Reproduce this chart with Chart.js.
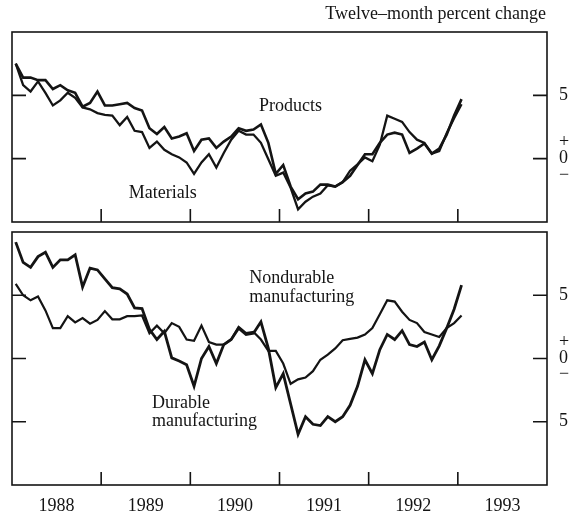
<!DOCTYPE html>
<html>
<head>
<meta charset="utf-8">
<script src="https://cdn.jsdelivr.net/npm/chart.js@4.4.1/dist/chart.umd.min.js"></script>
<style>
  html, body { margin: 0; padding: 0; background: #fff; }
  #wrap { position: relative; width: 574px; height: 512px; }
  canvas { position: absolute; left: 0; }
</style>
</head>
<body>
<div id="wrap">
  <canvas id="panelTop" width="574" height="228" style="top:0"></canvas>
  <canvas id="panelBottom" width="574" height="284" style="top:228px"></canvas>
</div>
<script>
// Twelve-month percent change, monthly, Jan 1988 - Jan 1993
var firstYear = 1988;

var products = [
  7.5, 6.4, 6.4, 6.2, 6.2, 5.5, 5.8, 5.4, 5.2, 4.1, 4.4, 5.3,
  4.2, 4.2, 4.3, 4.4, 4.0, 3.8, 2.4, 1.95, 2.5, 1.6, 1.75, 2.0,
  0.6, 1.5, 1.6, 0.85, 1.35, 1.75, 2.4, 2.2, 2.3, 2.7, 1.25, -1.2,
  -0.5, -2.2, -3.2, -2.75, -2.6, -2.05, -2.05, -2.2, -1.85, -1.35, -0.5, 0.35,
  0.35, 1.25, 1.9, 2.05, 1.9, 0.45, 0.8, 1.2, 0.4, 0.8, 1.9, 3.4,
  4.7
];
var materials = [
  7.5, 5.8, 5.3, 6.1, 5.2, 4.2, 4.6, 5.2, 4.8, 4.05, 3.9, 3.6,
  3.45, 3.4, 2.65, 3.3, 2.2, 2.1, 0.85, 1.35, 0.7, 0.35, 0.1, -0.3,
  -1.2, -0.3, 0.35, -0.7, 0.45, 1.5, 2.2, 1.9, 1.9, 1.25, -0.05, -1.35,
  -1.1, -2.3, -4.0, -3.4, -3.0, -2.75, -2.1, -2.2, -1.85, -0.95, -0.45, 0.1,
  -0.2, 1.1, 3.4, 3.15, 2.9, 2.1, 1.5, 1.25, 0.4, 0.6, 2.0, 3.2,
  4.3
];
var durable = [
  9.2, 7.6, 7.2, 8.05, 8.4, 7.2, 7.8, 7.8, 8.2, 5.65, 7.15, 7.0,
  6.3, 5.6, 5.5, 5.1, 4.0, 3.95, 2.3, 1.5, 2.15, 0.05, -0.2, -0.5,
  -2.2, 0.0, 0.95, -0.4, 1.1, 1.5, 2.4, 1.9, 2.0, 2.9, 0.8, -2.3,
  -1.2, -3.6, -6.0, -4.6, -5.2, -5.3, -4.6, -5.0, -4.6, -3.7, -2.2, -0.1,
  -1.2, 0.7, 1.9, 1.5, 2.2, 1.1, 0.95, 1.3, -0.1, 1.0, 2.4, 3.9,
  5.8
];
var nondurable = [
  5.9, 5.0, 4.6, 4.9, 3.8, 2.4, 2.4, 3.35, 2.85, 3.2, 2.75, 3.05,
  3.75, 3.1, 3.1, 3.35, 3.35, 3.4, 2.0, 2.6, 2.0, 2.8, 2.5, 1.5,
  1.4, 2.6, 1.3, 1.1, 1.1, 1.5, 2.5, 2.0, 2.1, 1.5, 0.6, 0.6,
  -0.4, -2.0, -1.65, -1.5, -1.0, -0.1, 0.3, 0.8, 1.45, 1.55, 1.65, 1.9,
  2.4, 3.5, 4.6, 4.5, 3.7, 3.05, 2.8, 2.1, 1.9, 1.7, 2.4, 2.8,
  3.4
];

var yearLabels = [1988, 1989, 1990, 1991, 1992, 1993];
var yearTicks = [1989, 1990, 1991, 1992, 1993];
var topTicks = [0, 5];
var bottomTicks = [-5, 0, 5];

var serif = '"Liberation Serif", "Times New Roman", serif';
var ink = '#141414';

// month i plotted at mid-month
function toPoints(values) {
  return values.map(function (v, i) {
    return { x: firstYear + (i + 0.5) / 12, y: v };
  });
}

function tickText(value) {
  if (value === 0) return ['+', '0', '\u2212'];
  return String(Math.abs(value));
}

// frame, inward ticks and the text notes inside the panels
var framePlugin = {
  id: 'frameTicks',
  afterDraw: function (chart, args, opts) {
    var ctx = chart.ctx, a = chart.chartArea;
    var xs = chart.scales.x, ys = chart.scales.y;
    ctx.save();
    ctx.strokeStyle = ink;
    ctx.lineWidth = 1.6;
    ctx.strokeRect(a.left, a.top, a.right - a.left, a.bottom - a.top);
    ctx.beginPath();
    yearTicks.forEach(function (yr) {
      var px = xs.getPixelForValue(yr);
      ctx.moveTo(px, a.bottom);
      ctx.lineTo(px, a.bottom - 13);
    });
    opts.yTicks.forEach(function (v) {
      var py = ys.getPixelForValue(v);
      ctx.moveTo(a.left, py);
      ctx.lineTo(a.left + 14, py);
      ctx.moveTo(a.right, py);
      ctx.lineTo(a.right - 14, py);
    });
    ctx.stroke();

    ctx.fillStyle = ink;
    ctx.font = '18px ' + serif;
    ctx.textBaseline = 'middle';
    ctx.textAlign = 'left';
    opts.notes.forEach(function (n) {
      ctx.fillText(n.text, xs.getPixelForValue(n.x), ys.getPixelForValue(n.y));
    });
    if (opts.title) {
      ctx.textAlign = 'right';
      ctx.fillText(opts.title, a.right - 1, 14);
    }
    ctx.restore();
  }
};

function lineSet(label, values, width) {
  return {
    label: label,
    data: toPoints(values),
    borderColor: ink,
    borderWidth: width,
    pointRadius: 0,
    tension: 0,
    fill: false
  };
}

function noPad(scale) {
  scale.paddingTop = 0;
  scale.paddingBottom = 0;
  scale.paddingLeft = 0;
  scale.paddingRight = 0;
}

function panelOptions(yMin, yMax, ticks, showYears, padTop, padBottom, frameOpts) {
  return {
    responsive: false,
    animation: false,
    layout: { padding: { left: 12, top: padTop, bottom: padBottom, right: 0 } },
    plugins: {
      legend: { display: false },
      tooltip: { enabled: false },
      frameTicks: frameOpts
    },
    scales: {
      x: {
        type: 'linear',
        min: firstYear,
        max: 1994,
        display: showYears,
        grid: { display: false, drawTicks: false },
        border: { display: false },
        afterBuildTicks: function (scale) {
          scale.ticks = yearLabels.map(function (y) { return { value: y + 0.5 }; });
        },
        afterFit: function (scale) {
          scale.height = showYears ? 27 : 0;
          noPad(scale);
        },
        ticks: {
          autoSkip: false,
          maxRotation: 0,
          padding: 10,
          color: ink,
          font: { family: serif, size: 18 },
          callback: function (value) { return String(Math.floor(value)); }
        }
      },
      y: {
        type: 'linear',
        position: 'right',
        min: yMin,
        max: yMax,
        grid: { display: false, drawTicks: false },
        border: { display: false },
        afterBuildTicks: function (scale) {
          scale.ticks = ticks.map(function (v) { return { value: v }; });
        },
        afterFit: function (scale) {
          scale.width = 27;
          noPad(scale);
        },
        ticks: {
          padding: 12,
          color: ink,
          font: { family: serif, size: 18, lineHeight: 0.9 },
          callback: function (value) { return tickText(value); }
        }
      }
    }
  };
}

document.addEventListener('DOMContentLoaded', function () {
  // Panel superior: productos y materiales
  new Chart(document.getElementById('panelTop').getContext('2d'), {
    type: 'line',
    data: {
      datasets: [
        lineSet('Products', products, 2.6),
        lineSet('Materials', materials, 2.3)
      ]
    },
    options: panelOptions(-5, 10, topTicks, false, 32, 6, {
      yTicks: topTicks,
      title: 'Twelve\u2013month percent change',
      notes: [
        { text: 'Products', x: 1990.77, y: 4.1 },
        { text: 'Materials', x: 1989.31, y: -2.7 }
      ]
    }),
    plugins: [framePlugin]
  });

  // Panel inferior: manufactura durable y no durable
  new Chart(document.getElementById('panelBottom').getContext('2d'), {
    type: 'line',
    data: {
      datasets: [
        lineSet('Durable manufacturing', durable, 2.8),
        lineSet('Nondurable manufacturing', nondurable, 2.2)
      ]
    },
    options: panelOptions(-10, 10, bottomTicks, true, 4, 0, {
      yTicks: bottomTicks,
      notes: [
        { text: 'Nondurable', x: 1990.66, y: 6.36 },
        { text: 'manufacturing', x: 1990.66, y: 4.86 },
        { text: 'Durable', x: 1989.57, y: -3.52 },
        { text: 'manufacturing', x: 1989.57, y: -5.0 }
      ]
    }),
    plugins: [framePlugin]
  });
});
</script>
</body>
</html>
